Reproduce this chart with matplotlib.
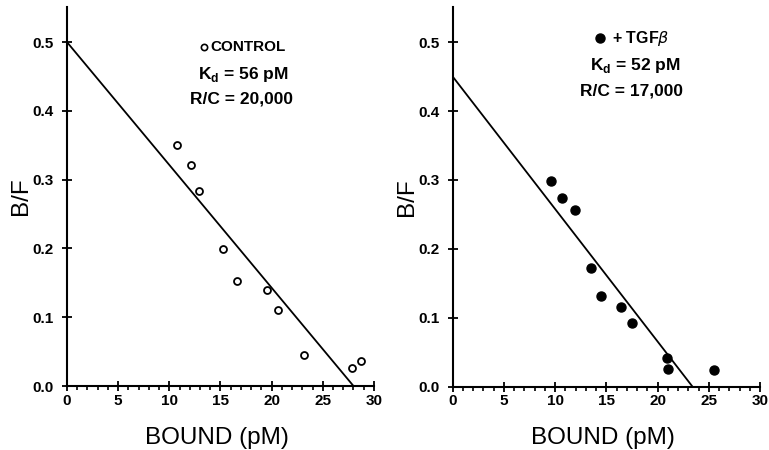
import matplotlib
matplotlib.use("Agg")
import matplotlib.pyplot as plt
from matplotlib.ticker import MultipleLocator

plt.rcParams['font.family'] = ['Liberation Sans', 'DejaVu Sans']
plt.rcParams['mathtext.fontset'] = 'custom'
plt.rcParams['mathtext.rm'] = 'Liberation Sans:bold'
plt.rcParams['mathtext.bf'] = 'Liberation Sans:bold'

# Scatchard data
control_bound = [10.8, 12.1, 12.9, 15.2, 16.6, 19.5, 20.6, 23.2, 27.9, 28.7]
control_bf = [0.350, 0.322, 0.283, 0.199, 0.153, 0.140, 0.110, 0.045, 0.026, 0.036]
control_fit_x = [0, 28.0]
control_fit_y = [0.50, 0.0]

tgf_bound = [9.6, 10.7, 11.9, 13.5, 14.5, 16.4, 17.5, 20.95, 21.0, 25.5]
tgf_bf = [0.298, 0.273, 0.257, 0.172, 0.131, 0.116, 0.092, 0.042, 0.026, 0.024]
tgf_fit_x = [0, 23.4]
tgf_fit_y = [0.45, 0.0]

xticks = [0, 5, 10, 15, 20, 25, 30]
yticks = [0.0, 0.1, 0.2, 0.3, 0.4, 0.5]


def style_axes(ax):
    for s in ['top', 'right']:
        ax.spines[s].set_visible(False)
    for s in ['left', 'bottom']:
        ax.spines[s].set_linewidth(1.5)
    ax.set_xlim(0, 30)
    ax.set_ylim(0, 0.551)
    ax.set_xticks(xticks)
    ax.set_yticks(yticks)
    ax.set_yticklabels(['%.1f' % v for v in yticks])
    ax.xaxis.set_minor_locator(MultipleLocator(1))
    ax.tick_params(axis='x', which='major', direction='inout', length=7, width=1.3,
                   labelsize=11, pad=2)
    ax.tick_params(axis='x', which='minor', direction='out', length=3, width=1.2)
    ax.tick_params(axis='y', which='major', direction='inout', length=7, width=1.3,
                   labelsize=11, pad=6)
    for lab in ax.get_xticklabels() + ax.get_yticklabels():
        lab.set_fontweight('bold')
    ax.set_xlabel('BOUND (pM)', fontsize=17.5)
    ax.set_ylabel('B/F', fontsize=17.5)
    ax.xaxis.set_label_coords(0.49, -0.108)
    ax.yaxis.set_label_coords(-0.114, 0.5)


fig = plt.figure(figsize=(7.69, 4.5), dpi=100)
ax1 = fig.add_axes([0.0871, 0.1422, 0.3992, 0.8422])
ax2 = fig.add_axes([0.5887, 0.1411, 0.3996, 0.8433])

# left: control
ax1.plot(control_fit_x, control_fit_y, color='black', lw=1.3)
ax1.plot(control_bound, control_bf, 'o', ms=5, mfc='white', mec='black', mew=1.3,
         clip_on=False)
style_axes(ax1)
ax1.plot([0.446], [0.895], 'o', ms=4.5, mfc='white', mec='black', mew=1.2,
         transform=ax1.transAxes)
ax1.text(0.466, 0.895, 'CONTROL', transform=ax1.transAxes, fontsize=11,
         fontweight='bold', ha='left', va='center')
ax1.text(0.573, 0.823, r'K$_{\mathbf{d}}$ = 56 pM', transform=ax1.transAxes,
         fontsize=12.5, fontweight='bold', ha='center', va='center')
ax1.text(0.567, 0.757, 'R/C = 20,000', transform=ax1.transAxes, fontsize=12.5,
         fontweight='bold', ha='center', va='center')

# right: + TGF-beta
ax2.plot(tgf_fit_x, tgf_fit_y, color='black', lw=1.3)
ax2.plot(tgf_bound, tgf_bf, 'o', ms=6.5, color='black', clip_on=False)
style_axes(ax2)
ax2.plot([0.479], [0.918], 'o', ms=6.5, color='black', transform=ax2.transAxes)
ax2.text(0.518, 0.918, '+ TGF$\\beta$', transform=ax2.transAxes, fontsize=11.5,
         fontweight='bold', ha='left', va='center')
ax2.text(0.593, 0.847, r'K$_{\mathbf{d}}$ = 52 pM', transform=ax2.transAxes,
         fontsize=12.5, fontweight='bold', ha='center', va='center')
ax2.text(0.583, 0.779, 'R/C = 17,000', transform=ax2.transAxes, fontsize=12.5,
         fontweight='bold', ha='center', va='center')

fig.savefig('out.png', dpi=100)
